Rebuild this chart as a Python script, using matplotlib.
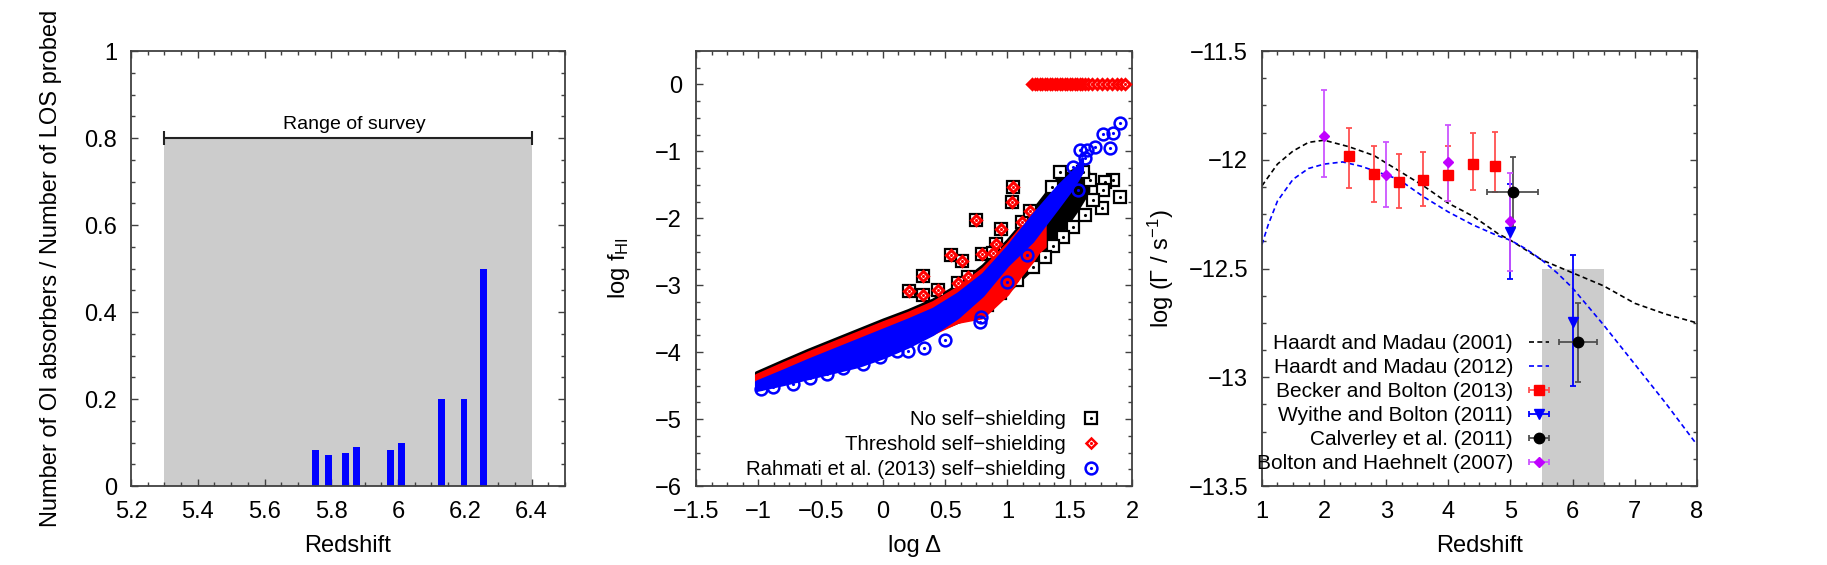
import numpy as np
import matplotlib
matplotlib.use("Agg")
import matplotlib.pyplot as plt
from matplotlib.ticker import MultipleLocator, FuncFormatter
from matplotlib.legend_handler import HandlerTuple

plt.rcParams['font.family'] = ['Liberation Sans', 'DejaVu Sans']
plt.rcParams['mathtext.fontset'] = 'custom'
plt.rcParams['mathtext.rm'] = 'Liberation Sans'
plt.rcParams['mathtext.it'] = 'Liberation Sans:italic'

# ---------------- panel 1: OI absorbers per line of sight ----------------
bar_z = [5.753, 5.792, 5.842, 5.876, 5.977, 6.011, 6.131, 6.198, 6.257]
bar_frac = [0.083, 0.071, 0.077, 0.090, 0.083, 0.100, 0.200, 0.200, 0.500]
survey_z = [5.3, 6.4]
survey_level = 0.8

# ---------------- panel 2: neutral fraction vs overdensity ----------------
# dense cores of the three point clouds (x, lower edge, upper edge)
nss_x = [-1.02, -0.8, -0.6, -0.4, -0.2, 0.0, 0.2, 0.4, 0.6, 0.8, 1.0, 1.2, 1.4, 1.55, 1.65]
nss_hi = [-4.30, -4.12, -3.96, -3.81, -3.66, -3.51, -3.37, -3.21, -2.99, -2.7, -2.32, -1.88, -1.4,
          -1.25, -1.3]
nss_lo = [-4.5, -4.4, -4.3, -4.2, -4.1, -3.98, -3.86, -3.7, -3.55, -3.42, -3.1, -2.75, -2.3,
          -1.9, -1.6]

thr_x = [-1.02, -0.8, -0.6, -0.4, -0.2, 0.0, 0.2, 0.4, 0.6, 0.8, 1.0, 1.1, 1.2, 1.25, 1.3]
thr_hi = [-4.34, -4.16, -4.0, -3.85, -3.70, -3.55, -3.41, -3.25, -3.03, -2.75, -2.37, -2.15, -1.95,
          -1.85, -1.8]
thr_lo = [-4.5, -4.42, -4.34, -4.26, -4.17, -4.05, -3.9, -3.72, -3.55, -3.48, -3.13, -2.87, -2.64,
          -2.5, -2.42]

rah_x = [-1.02, -0.8, -0.6, -0.4, -0.2, 0.0, 0.2, 0.4, 0.6, 0.8, 1.0, 1.2, 1.4, 1.5, 1.56, 1.6]
rah_hi = [-4.44, -4.27, -4.11, -3.96, -3.81, -3.66, -3.51, -3.35, -3.12, -2.83, -2.42, -1.95, -1.52,
          -1.34, -1.22, -1.1]
rah_lo = [-4.57, -4.48, -4.39, -4.30, -4.21, -4.08, -3.92, -3.73, -3.48, -3.15, -2.7, -2.34, -1.85,
          -1.6, -1.43, -1.3]

# scattered points below the threshold (same in both runs)
shared_x = [1.047, 1.039, 0.745, 0.948, 0.547, 0.638, 0.793, 0.325, 0.21, 0.44, 0.325, 1.115,
            1.181, 0.906, 0.681, 0.60, 0.88]
shared_y = [-1.528, -1.752, -2.025, -2.16, -2.548, -2.634, -2.538, -2.862, -3.082, -3.071, -3.146,
            -2.05, -1.891, -2.384, -2.872, -2.972, -2.52]
# points only in the run without self-shielding
nss_out_x = [1.904, 1.850, 1.783, 1.770, 1.663, 1.609, 1.422, 1.355, 1.757, 1.69, 1.623, 1.529,
             1.449, 1.369, 1.302, 1.208, 1.074, 0.94, 0.833]
nss_out_y = [-1.677, -1.428, -1.453, -1.577, -1.428, -1.303, -1.303, -1.527, -1.85, -1.727, -1.95,
             -2.125, -2.274, -2.42, -2.574, -2.72, -2.92, -3.12, -3.30]
# self-shielded gas set to fully neutral
thr_sat_x = [1.2, 1.22, 1.24, 1.26, 1.28, 1.30, 1.32, 1.34, 1.36, 1.38, 1.40, 1.42, 1.44, 1.46,
             1.48, 1.50, 1.52, 1.54, 1.56, 1.58, 1.60, 1.62, 1.65, 1.68, 1.72, 1.76, 1.80, 1.84,
             1.88, 1.91, 1.94]
thr_sat_y = [0.0] * len(thr_sat_x)
# Rahmati outliers
rah_out_x = [1.904, 1.85, 1.764, 1.823, 1.703, 1.636, 1.583, 1.623, 1.529, 1.57, 0.994, 1.155,
             0.78, 0.79, 0.499, 0.333, 0.205, 0.11, -0.023, -0.157, -0.318, -0.451, -0.585,
             -0.72, -0.88, -0.98]
rah_out_y = [-0.58, -0.73, -0.745, -0.945, -0.93, -0.98, -0.98, -1.10, -1.23, -1.577, -2.95, -2.55,
             -3.545, -3.47, -3.82, -3.94, -3.98, -3.99, -4.07, -4.17, -4.24, -4.32, -4.39,
             -4.48, -4.52, -4.55]

# ---------------- panel 3: photoionisation rate ----------------
hm01_z = [1.0, 1.25, 1.5, 1.75, 2.0, 2.4, 2.8, 3.2, 3.6, 4.0, 4.4, 4.8, 5.0, 5.5, 6.0, 6.5, 7.0, 7.5, 8.0]
hm01_g = [-12.12, -12.02, -11.96, -11.92, -11.91, -11.94, -11.98, -12.05, -12.12, -12.20,
          -12.26, -12.34, -12.37, -12.46, -12.52, -12.58, -12.66, -12.71, -12.75]
hm12_z = [1.0, 1.1, 1.25, 1.5, 1.75, 2.0, 2.3, 2.6, 2.8, 3.2, 3.6, 4.0, 4.4, 4.8, 5.0, 5.25,
          5.5, 5.75, 6.0, 6.5, 7.0, 7.5, 8.0]
hm12_g = [-12.39, -12.30, -12.19, -12.09, -12.04, -12.02, -12.01, -12.03, -12.05, -12.09, -12.17,
          -12.24, -12.30, -12.35, -12.37, -12.41, -12.46, -12.52, -12.59, -12.76, -12.94, -13.12, -13.31]

bb13_z = [2.4, 2.8, 3.2, 3.6, 4.0, 4.4, 4.75]
bb13_g = [-11.984, -12.065, -12.102, -12.095, -12.070, -12.019, -12.028]
bb13_up = [0.132, 0.129, 0.130, 0.131, 0.134, 0.142, 0.156]
bb13_dn = [0.146, 0.131, 0.120, 0.119, 0.118, 0.120, 0.122]

wb11_z = [5.0, 6.0]
wb11_g = [-12.334, -12.747]
wb11_up = [0.224, 0.307]
wb11_dn = [0.215, 0.293]

cal11_z = [5.04, 6.09]
cal11_g = [-12.150, -12.840]
cal11_xerr = [0.41, 0.31]
cal11_up = [0.161, 0.181]
cal11_dn = [0.158, 0.181]

bh07_z = [2.0, 3.0, 4.0, 5.0]
bh07_g = [-11.889, -12.068, -12.009, -12.280]
bh07_up = [0.210, 0.150, 0.167, 0.221]
bh07_dn = [0.190, 0.151, 0.182, 0.230]

obs_box_z = [5.5, 6.5]
obs_box_g = [-13.5, -12.5]

FRAME = '#404040'
GREY = '#cccccc'
PURPLE = '#c000ff'


def fmt(v, pos):
    return ('%g' % round(v, 6)).replace('-', '\u2212')


def style(ax, xmaj, xmin, ymaj, ymin):
    ax.xaxis.set_major_locator(MultipleLocator(xmaj))
    ax.xaxis.set_minor_locator(MultipleLocator(xmin))
    ax.yaxis.set_major_locator(MultipleLocator(ymaj))
    ax.yaxis.set_minor_locator(MultipleLocator(ymin))
    ax.xaxis.set_major_formatter(FuncFormatter(fmt))
    ax.yaxis.set_major_formatter(FuncFormatter(fmt))
    ax.tick_params(which='both', direction='in', top=True, right=True, color=FRAME, width=1)
    ax.tick_params(which='major', length=5, labelsize=17)
    ax.tick_params(which='minor', length=3)
    ax.tick_params(axis='x', pad=11)
    ax.tick_params(axis='y', pad=10)
    for s in ax.spines.values():
        s.set_color(FRAME)
        s.set_linewidth(1.3)


fig = plt.figure(figsize=(18.27, 5.65), dpi=100)
ax1 = fig.add_axes([0.0717, 0.1398, 0.2375, 0.7699])
ax2 = fig.add_axes([0.3810, 0.1398, 0.2386, 0.7699])
ax3 = fig.add_axes([0.6907, 0.1398, 0.2381, 0.7699])

# ---- panel 1
ax1.fill_between(survey_z, 0, survey_level, color=GREY, lw=0, zorder=0)
ax1.bar(bar_z, bar_frac, width=0.02, color='#0000ff', zorder=2)
ax1.errorbar([np.mean(survey_z)], [survey_level], xerr=[(survey_z[1] - survey_z[0]) / 2],
             fmt='none', ecolor='#222222', elinewidth=1.5, capsize=5, capthick=1.5, zorder=3)
ax1.text(5.87, survey_level + 0.012, 'Range of survey', ha='center', va='bottom', fontsize=14)
ax1.set_xlim(5.2, 6.5)
ax1.set_ylim(0, 1)
style(ax1, 0.2, 0.05, 0.2, 0.05)
ax1.set_xlabel('Redshift', fontsize=17)
ax1.set_ylabel('Number of OI absorbers / Number of LOS probed', fontsize=17)
ax1.xaxis.set_label_coords(0.5, -0.113)
ax1.yaxis.set_label_coords(-0.159, 0.5)

# ---- panel 2
ms_sq, ms_di, ms_ci = 8, 5.5, 8.5
RED, BLUE = '#ff0000', '#0000ff'
# no self-shielding
ax2.fill_between(nss_x, nss_lo, nss_hi, color='black', lw=2, zorder=1)
ax2.plot(nss_out_x + shared_x, nss_out_y + shared_y, 's', ms=ms_sq, mfc='white',
         mec='black', mew=1.6, zorder=2)
ax2.plot(nss_out_x, nss_out_y, '.', ms=2.5, color='black', zorder=2)
# threshold self-shielding
ax2.fill_between(thr_x, thr_lo, thr_hi, color=RED, lw=2, zorder=3)
ax2.plot(shared_x + thr_sat_x, shared_y + thr_sat_y, 'D', ms=ms_di, mfc='white',
         mec=RED, mew=2.2, zorder=4)
ax2.plot(shared_x + thr_sat_x, shared_y + thr_sat_y, '.', ms=2.5, color=RED, zorder=4)
# Rahmati et al. self-shielding
ax2.fill_between(rah_x, rah_lo, rah_hi, color=BLUE, lw=2, zorder=5)
ax2.plot(rah_out_x, rah_out_y, 'o', ms=ms_ci, mfc='none', mec=BLUE, mew=1.8, zorder=6)
ax2.plot(rah_out_x, rah_out_y, '.', ms=2.5, color=BLUE, zorder=6)

lb = plt.Line2D([], [], ls='none', marker='s', ms=ms_sq, mfc='none', mec='black', mew=1.6)
lbd = plt.Line2D([], [], ls='none', marker='.', ms=2.5, color='black')
lr = plt.Line2D([], [], ls='none', marker='D', ms=ms_di, mfc='none', mec=RED, mew=1.8)
lrd = plt.Line2D([], [], ls='none', marker='.', ms=2.5, color=RED)
lc = plt.Line2D([], [], ls='none', marker='o', ms=ms_ci, mfc='none', mec=BLUE, mew=1.8)
lcd = plt.Line2D([], [], ls='none', marker='.', ms=2.5, color=BLUE)
ax2.legend([(lb, lbd), (lr, lrd), (lc, lcd)],
           ['No self\u2212shielding', 'Threshold self\u2212shielding',
            'Rahmati et al. (2013) self\u2212shielding'],
           handler_map={tuple: HandlerTuple(ndivide=1)},
           loc='lower right', bbox_to_anchor=(0.929, 0.015), frameon=False, markerfirst=False,
           fontsize=14.7, handlelength=1.0, handletextpad=0.72, labelspacing=0.3,
           borderpad=0, borderaxespad=0)
ax2.set_xlim(-1.5, 2)
ax2.set_ylim(-6, 0.5)
style(ax2, 0.5, 0.125, 1, 0.25)
ax2.set_xlabel('log \u0394', fontsize=17)
ax2.set_ylabel('log f$_{\\mathregular{HI}}$', fontsize=17)
ax2.xaxis.set_label_coords(0.5, -0.113)
ax2.yaxis.set_label_coords(-0.147, 0.5)

# ---- panel 3
ax3.fill_between(obs_box_z, obs_box_g[0], obs_box_g[1], color=GREY, lw=0, zorder=0)
l01 = ax3.plot(hm01_z, hm01_g, color='black', lw=1.2, dashes=(3, 2), zorder=2)[0]
l12 = ax3.plot(hm12_z, hm12_g, color=BLUE, lw=1.2, dashes=(3, 2), zorder=2)[0]
eb_kw = dict(capsize=2.5, elinewidth=1.3, capthick=1.3, ls='none', zorder=3)
ax3.errorbar(bb13_z, bb13_g, yerr=[bb13_dn, bb13_up], marker='s', ms=7.2, color=RED,
             ecolor='#ff5050', **eb_kw)
ax3.errorbar(wb11_z, wb11_g, yerr=[wb11_dn, wb11_up], marker='v', ms=7.5, color=BLUE,
             ecolor=BLUE, **eb_kw)
ax3.errorbar(cal11_z, cal11_g, xerr=cal11_xerr, yerr=[cal11_dn, cal11_up], marker='o', ms=7.5,
             color='black', ecolor='#505050', **eb_kw)
ax3.errorbar(bh07_z, bh07_g, yerr=[bh07_dn, bh07_up], marker='D', ms=5, color=PURPLE,
             ecolor='#cc55ff', **eb_kw)

# legend samples drawn gnuplot-like, with a short horizontal bar
px = dict(xerr=[0.1], yerr=None, capsize=2.5, elinewidth=1.3, capthick=1.3, ls='none')
pb = ax3.errorbar([np.nan], [np.nan], marker='s', ms=7.2, color=RED, ecolor='#ff5050', **px)
pw = ax3.errorbar([np.nan], [np.nan], marker='v', ms=7.5, color=BLUE, ecolor=BLUE, **px)
pc = ax3.errorbar([np.nan], [np.nan], marker='o', ms=7.5, color='black', ecolor='#505050', **px)
pp = ax3.errorbar([np.nan], [np.nan], marker='D', ms=5, color=PURPLE, ecolor='#cc55ff', **px)
ax3.legend([l01, l12, pb, pw, pc, pp],
           ['Haardt and Madau (2001)', 'Haardt and Madau (2012)', 'Becker and Bolton (2013)',
            'Wyithe and Bolton (2011)', 'Calverley et al. (2011)', 'Bolton and Haehnelt (2007)'],
           loc='lower right', bbox_to_anchor=(0.66, 0.03), frameon=False, markerfirst=False,
           fontsize=15, handlelength=0.96, handletextpad=0.77, labelspacing=0.235,
           borderpad=0, borderaxespad=0)
ax3.set_xlim(1, 8)
ax3.set_ylim(-13.5, -11.5)
style(ax3, 1, 0.25, 0.5, 0.125)
ax3.set_xlabel('Redshift', fontsize=17)
ax3.set_ylabel('log (\u0393 / s$^{\\mathregular{\u22121}}$)', fontsize=17)
ax3.xaxis.set_label_coords(0.5, -0.113)
ax3.yaxis.set_label_coords(-0.198, 0.5)

fig.savefig('out.png', dpi=100)
